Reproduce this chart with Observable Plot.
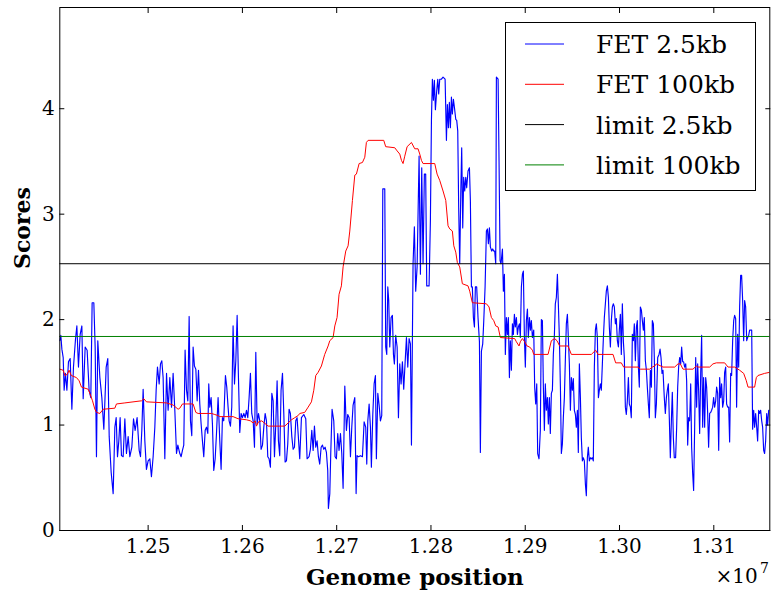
<!DOCTYPE html>
<html><head><meta charset="utf-8">
<script src="https://cdn.jsdelivr.net/npm/d3@7"></script>
<script src="https://cdn.jsdelivr.net/npm/@observablehq/plot@0.6"></script>
<style>
body{margin:0;background:#fff;}
#wrap{position:relative;width:771px;height:592px;font-family:"DejaVu Serif",serif;}
#legend{position:absolute;left:505px;top:22px;width:251px;height:169px;border:1px solid #000;background:#fff;box-sizing:border-box;}
</style></head><body><div id="wrap"><div id="legend"></div></div>
<script>
// FET 2.5kb window scores: genome position (kb) and score
const fet25PosKb = [
12406.3,12407.4,12408.5,12409.9,12410.9,12412.3,12413.8,12415.5,12417.3,12419.1,12420.8,12423.0,12424.4,12426.1,12427.9,12429.7,12431.1,12433.2,12435.3,12437.4,12439.2,12440.6,12442.4,12443.8,12445.2,12446.6,12448.8,12450.9,12453.0,12455.5,12457.2,12458.7,12460.8,12462.9,12464.7,12466.1,12467.5,12468.9,12470.3,12471.7,12473.5,12475.3,12477.0,12478.8,12480.6,12482.7,12484.5,12486.2,12488.3,12490.5,12491.9,12493.3,12494.7,12496.5,12498.2,12500.0,12501.8,12503.5,12505.3,12507.1,12508.5,12509.9,12511.7,12513.1,12514.5,12515.9,12517.7,12519.5,12521.2,12523.0,12524.8,12526.5,12528.3,12530.1,12531.5,
12533.6,12535.0,12536.4,12537.8,12539.2,12540.7,12542.1,12543.5,12544.9,12546.3,12547.7,12549.1,12550.6,12552.0,12553.4,12554.8,12556.2,12557.6,12559.0,12560.5,12561.9,12563.3,12564.3,12565.4,12566.8,12568.2,12569.6,12571.1,12572.5,12574.2,12576.0,12577.4,12578.8,12580.2,12582.0,12583.4,12584.8,12585.9,12587.3,12588.7,12590.1,12591.6,12593.0,12594.4,12595.8,12597.2,12598.6,12600.0,12601.5,12602.9,12604.3,12605.7,12607.1,12608.5,12609.9,12611.4,12612.8,12614.2,12615.6,12617.0,12618.4,12619.8,12621.3,12622.7,12624.1,12625.5,12626.9,12628.3,12629.7,12631.2,12632.6,12634.0,12635.4,12636.8,12638.2,12639.6,12641.0,12642.5,12643.9,12645.3,12646.7,12648.1,12649.5,12650.9,12652.4,12653.8,12655.2,12656.6,12658.0,
12659.1,12660.8,12662.6,12665.1,12667.2,12668.6,12670.7,12672.1,12673.6,12675.0,12676.4,12677.8,12679.2,12680.6,12682.0,12683.5,12684.9,12686.3,12687.7,12689.1,12690.5,12691.2,12692.7,12693.7,12695.1,12696.9,12698.3,12699.7,12701.1,12702.5,12704.0,12705.4,12706.8,12708.6,12710.3,12711.7,12713.2,12714.6,12716.0,12717.4,12719.2,12720.6,12721.6,12723.1,12725.2,12727.3,12729.1,12730.8,12731.9,12733.0,12734.4,12735.8,12736.8,12738.3,12739.7,12741.1,12742.1,12743.6,12745.0,12746.4,12747.8,12748.9,12751.0,12752.0,12753.1,12754.2,12755.2,12756.3,12757.7,12759.1,12760.2,12761.2,12762.6,12764.1,12765.5,12766.9,12768.3,12769.7,12771.1,12772.5,12774.0,12775.4,12776.8,12778.2,12779.3,12781.0,12782.4,12783.8,12785.3,
12787.4,12788.8,12790.2,12791.6,12793.0,12794.4,12795.5,12798.0,12799.4,12800.5,12801.5,12802.6,12803.6,12804.7,12806.1,12807.2,12808.2,12809.3,12811.1,12812.8,12815.0,12816.4,12817.4,12818.5,12819.5,12820.6,12821.7,12822.7,12823.8,12824.9,12826.3,12827.3,12828.4,12829.4,12830.5,12831.6,12832.6,12833.7,12834.7,12835.8,12836.9,12837.9,12839.3,12840.8,12841.8,12842.9,12843.9,12845.0,12846.1,12847.1,12848.5,12849.9,12851.4,12852.4,12853.5,12854.9,12856.0,12857.4,12858.8,12859.9,12860.9,12862.0,12863.0,12864.4,12865.5,12866.6,12867.6,12868.7,12869.4,12871.2,12872.2,12873.3,12874.3,12875.8,12876.8,12877.9,12878.9,12880.0,12881.1,12882.1,12883.2,12884.2,12885.3,12886.4,12887.4,12888.5,12889.5,12890.6,12891.7,12892.7,12893.8,12894.8,12895.9,12897.0,12898.0,12899.1,12900.1,12901.2,12902.3,12903.3,12904.4,12905.5,12906.5,12907.6,12909.0,12910.0,12911.1,12912.2,12913.2,
12914.6,12916.0,12917.1,12918.2,12919.2,12920.3,12921.3,12922.4,12923.5,12924.5,12925.6,12926.6,12927.7,12928.8,12929.8,12930.9,12931.9,12933.0,12934.1,12935.1,12936.2,12937.3,12938.3,12939.4,12940.4,12941.5,12942.6,12943.6,12944.7,12945.7,12946.8,12947.9,12948.9,12950.0,12951.0,12952.1,12953.2,12954.2,12955.3,12956.3,12957.4,12958.5,12959.5,12960.6,12961.6,12962.7,12963.8,12964.8,12965.9,12966.9,12968.0,12969.1,12970.1,12971.2,12972.2,12973.3,12974.4,12975.4,12976.5,12977.6,12978.6,12979.7,12980.7,12981.8,12982.9,12983.9,12985.0,12986.0,12987.1,12988.2,12989.2,12990.3,12991.3,12992.4,12993.5,12994.5,12995.6,12996.6,12997.7,12998.8,12999.8,13000.9,13001.9,13003.0,13004.1,13005.1,13006.2,13007.2,13008.3,13009.4,13010.4,13011.5,13012.5,13013.6,13014.7,13015.7,13016.8,13017.9,13018.9,13020.0,13021.0,13022.1,13023.2,13024.2,13025.3,13026.3,13027.4,13028.5,13029.5,13030.6,13031.6,13032.7,13033.8,13034.8,13035.9,13036.9,13038.0,13039.1,
13040.5,13041.9,13043.0,13044.0,13045.1,13046.1,13047.5,13048.6,13049.7,13050.7,13051.8,13052.8,13053.9,13055.0,13056.0,13057.1,13058.1,13059.5,13060.6,13061.7,13062.7,13063.8,13064.9,13065.9,13067.0,13068.0,13069.1,13070.2,13071.2,13072.3,13073.3,13074.4,13075.5,13076.5,13077.6,13078.6,13079.7,13080.8,13081.8,13082.9,13083.9,13085.0,13086.1,13087.1,13088.2,13089.2,13090.3,13091.4,13092.4,13093.5,13094.5,13095.6,13096.7,13097.7,13098.8,13099.8,13100.9,13102.0,13103.0,13104.1,13105.2,13106.2,13107.3,13108.3,13109.4,13110.5,13111.5,13112.6,13113.6,13114.7,13115.8,13116.8,13117.9,13118.9,13120.0,13121.1,13122.1,13123.2,13124.2,13125.3,13126.4,13127.4,13128.5,13129.5,13130.6,13131.7,13132.7,13133.8,13134.9,13135.9,13137.0,13138.0,13139.1,13140.2,13141.2,13142.3,13143.3,13144.4,13145.5,13146.5,13147.6,13148.6,13149.7,13150.8,13151.8,13152.9,13153.9,13155.0,13156.1,13157.1,13158.2,13159.2
];
const fet25Score = [
1.80,1.85,1.72,1.64,1.33,1.49,1.33,1.60,1.63,1.15,1.55,1.82,1.94,1.55,1.86,1.94,1.25,1.74,1.71,1.33,1.26,2.16,2.16,1.74,0.70,1.80,1.45,1.26,0.96,1.55,1.63,0.89,0.55,0.35,0.98,1.07,0.70,0.85,1.07,0.71,0.70,1.06,0.73,0.89,0.70,0.79,1.06,0.95,1.07,0.76,0.70,0.95,1.34,0.85,0.58,0.66,0.68,0.51,0.70,0.98,1.33,1.55,1.39,1.58,1.61,1.45,0.68,1.49,1.14,1.45,1.17,1.49,1.14,0.73,0.81,
0.73,0.70,0.76,0.81,1.71,1.33,1.23,2.03,1.04,0.90,1.74,1.56,1.53,1.23,1.52,1.20,1.01,0.85,0.70,0.95,0.98,0.92,1.39,1.17,1.26,1.01,0.57,0.68,0.92,1.26,0.85,0.58,1.07,1.04,1.47,1.36,1.17,1.04,0.99,1.17,1.94,1.39,1.61,2.04,1.45,0.93,1.11,1.07,1.11,1.07,1.14,1.07,1.26,1.49,1.11,1.04,0.79,1.69,1.01,1.11,1.04,0.77,0.81,0.98,1.11,1.04,0.70,0.68,0.60,1.30,1.23,0.70,1.01,1.42,0.85,0.71,1.33,1.49,1.11,0.65,0.66,0.82,1.15,1.11,0.89,0.77,0.79,1.04,1.07,
0.92,0.68,1.07,1.10,1.06,0.68,0.70,0.77,0.95,0.76,0.99,0.79,0.85,0.70,0.63,0.79,0.81,0.77,0.79,0.74,0.57,0.21,0.35,0.73,1.15,1.04,0.70,0.68,0.92,0.76,0.92,0.73,0.40,1.37,0.95,1.10,1.07,0.70,0.98,1.19,1.26,0.35,0.71,0.70,0.71,0.70,1.03,0.98,0.63,1.04,1.20,0.98,0.60,1.10,1.39,1.47,0.68,1.30,1.19,1.04,1.09,3.24,3.24,1.74,1.67,2.31,2.18,1.74,2.02,2.04,1.67,1.58,1.85,1.74,1.07,1.58,1.39,1.60,1.34,1.58,1.83,1.55,1.82,1.77,0.81,2.53,2.88,2.27,2.50,
3.55,2.43,3.44,2.53,3.38,3.38,2.32,2.32,2.94,3.89,4.28,4.08,4.27,3.99,4.17,4.28,4.14,4.28,4.28,4.30,4.28,3.70,4.04,3.82,4.06,3.82,4.11,3.95,4.09,4.01,3.90,3.89,3.79,3.06,2.53,3.19,3.63,2.87,3.35,3.22,3.35,3.25,3.41,3.44,3.13,2.31,2.31,2.02,1.93,2.31,2.31,2.02,1.79,0.74,1.70,1.77,1.99,2.31,2.84,2.86,2.72,2.87,2.69,2.65,2.67,2.65,2.65,2.53,4.30,4.28,3.51,2.56,2.53,2.67,2.27,2.43,1.67,2.02,1.86,2.02,1.45,1.80,1.52,1.96,1.86,2.05,1.93,2.02,1.86,1.93,1.96,1.83,2.31,2.43,2.46,1.83,1.55,1.99,2.10,1.83,2.02,1.90,1.99,1.83,1.90,1.36,1.20,1.39,0.73,
0.68,0.95,2.00,1.99,1.37,0.95,1.39,1.14,1.26,1.01,1.26,0.92,1.30,1.33,1.67,1.85,2.15,2.21,2.43,2.15,1.83,1.36,0.73,0.82,1.07,1.26,1.64,1.96,2.05,1.83,1.58,1.14,1.45,1.33,1.44,1.14,1.10,0.98,1.14,0.74,1.58,1.26,0.88,0.66,0.69,0.66,0.44,0.33,0.69,0.79,0.66,0.69,0.68,0.69,0.66,1.55,1.90,1.96,1.83,1.26,1.33,1.39,1.33,1.58,1.83,2.02,2.15,2.27,2.32,2.21,1.93,1.74,1.99,2.12,2.15,2.12,1.96,2.01,1.80,1.74,1.90,2.05,1.67,2.15,1.79,1.64,1.17,1.10,1.23,1.45,1.20,1.17,1.07,1.86,1.80,1.96,1.61,1.93,1.99,1.55,1.36,2.12,2.09,1.99,1.90,2.02,1.61,1.52,1.36,1.20,1.07,1.52,1.36,1.99,1.96,1.64,1.07,1.20,
1.64,1.67,1.72,1.64,1.49,1.52,1.26,1.11,1.26,1.33,1.39,1.07,0.69,1.04,1.31,0.88,0.69,0.69,0.98,1.36,1.55,1.64,1.58,1.74,1.60,1.60,1.55,1.58,1.42,0.81,1.07,1.04,1.39,0.79,0.54,0.38,0.98,1.64,1.17,1.58,1.33,0.92,1.49,1.85,0.98,1.45,0.98,1.45,1.36,1.11,0.79,1.11,1.12,1.14,1.17,1.26,1.17,1.23,1.36,1.30,0.76,1.45,1.26,1.39,1.17,1.23,1.50,1.55,1.20,1.17,1.17,0.84,1.49,1.47,1.80,1.99,2.04,2.01,1.17,1.86,1.55,2.12,2.42,2.42,2.18,1.80,2.18,2.12,1.80,1.83,1.85,1.90,1.90,1.90,0.96,1.14,0.98,1.11,0.98,0.85,1.14,1.11,1.14,1.04,0.98,0.76,0.73,0.85,1.11,1.00,1.14,1.14
];
// FET 100kb window scores
const fet100PosKb = [
12406.3,12409.9,12411.6,12414.1,12416.2,12418.4,12424.0,12426.8,12429.3,12436.4,12438.2,12441.0,12443.5,12445.2,12448.8,12452.3,12464.7,12466.4,12475.3,12493.0,12495.4,12498.2,12519.5,12526.5,12531.8,
12533.6,12536.4,12547.7,12550.6,12553.0,12567.2,12570.7,12574.2,12576.0,12590.1,12595.4,12604.3,12608.5,12611.4,12613.5,12614.9,12617.0,12620.5,12627.3,12644.9,12648.5,12652.0,12655.5,12659.1,
12660.8,12666.1,12669.7,12673.2,12675.7,12677.8,12680.3,12683.8,12687.3,12690.9,12692.7,12696.2,12698.0,12700.4,12702.5,12705.0,12706.8,12709.6,12712.1,12713.9,12716.7,12719.2,12720.9,12723.8,12727.3,12729.8,12731.5,12733.3,12749.9,12752.0,12761.6,12764.1,12766.9,12768.7,12770.4,12772.2,12774.7,12779.3,12782.8,
12786.3,12788.1,12789.9,12791.6,12804.0,12806.5,12809.3,12812.8,12815.7,12818.1,12819.9,12822.7,12824.2,12826.3,12828.0,12830.5,12833.3,12839.3,12841.1,12843.9,12858.8,12861.6,12864.1,12866.6,12868.7,12871.2,12873.6,12888.8,12890.6,12893.4,12894.8,12897.0,12899.4,12901.9,12904.7,12907.6,12909.0,
12924.2,12927.7,12931.2,12933.7,12936.5,12945.4,12948.9,12970.1,12974.7,12977.2,12993.1,12995.9,13001.9,13004.4,13019.6,13022.1,13032.0,13034.8,13037.3,
13039.1,13046.1,13058.5,13062.0,13064.5,13067.3,13077.9,13081.5,13083.2,13095.6,13099.1,13102.7,13111.5,13115.1,13122.1,13127.4,13131.7,13134.5,13136.3,13143.3,13145.1,13146.9,13153.9,13159.2
];
const fet100Score = [
1.53,1.52,1.47,1.48,1.52,1.47,1.45,1.42,1.36,1.34,1.30,1.23,1.15,1.12,1.11,1.15,1.16,1.20,1.21,1.23,1.25,1.22,1.21,1.19,1.15,
1.16,1.20,1.20,1.12,1.11,1.11,1.10,1.09,1.08,1.08,1.06,1.05,1.04,1.02,1.04,0.99,1.03,1.04,0.99,0.99,1.02,1.05,1.07,1.09,
1.11,1.12,1.17,1.22,1.33,1.47,1.50,1.56,1.67,1.75,1.80,1.83,1.94,2.02,2.24,2.32,2.50,2.65,2.70,2.84,3.13,3.37,3.38,3.48,3.49,3.54,3.68,3.70,3.70,3.64,3.63,3.60,3.57,3.51,3.48,3.55,3.64,3.68,3.62,
3.62,3.57,3.51,3.48,3.48,3.38,3.32,3.22,3.13,2.89,2.86,2.84,2.70,2.64,2.54,2.50,2.34,2.32,2.27,2.16,2.15,2.12,2.02,1.99,1.94,1.93,1.83,1.82,1.79,1.75,1.79,1.82,1.79,1.75,1.74,1.71,1.67,
1.67,1.80,1.82,1.80,1.75,1.75,1.67,1.67,1.71,1.67,1.67,1.59,1.59,1.55,1.55,1.53,1.53,1.55,1.56,
1.58,1.55,1.55,1.58,1.58,1.53,1.53,1.56,1.55,1.55,1.58,1.59,1.59,1.55,1.55,1.52,1.49,1.42,1.36,1.36,1.45,1.47,1.49,1.50
];
// significance limits
const limitNames = ["limit 2.5kb", "limit 100kb"];
const limitValues = [2.53, 1.84];
// legend
const legendLabels = ["FET 2.5kb", "FET 100kb", "limit 2.5kb", "limit 100kb"];
const legendColors = ["#0000ff", "#ff0000", "#000000", "#008000"];
// axes
const xTicks = [12500000, 12600000, 12700000, 12800000, 12900000, 13000000, 13100000];
const yTicks = [0, 1, 2, 3, 4];
const xDomain = [12406300, 13159400];
const yDomain = [0, 4.96];

const fet25 = fet25PosKb.map((p, i) => ({pos: p * 1000, score: fet25Score[i]}));
const fet100 = fet100PosKb.map((p, i) => ({pos: p * 1000, score: fet100Score[i]}));

const plot = Plot.plot({
  width: 771, height: 592,
  marginLeft: 59.3, marginRight: 1.7, marginTop: 7, marginBottom: 62,
  style: {fontFamily: '"DejaVu Serif", serif', fontSize: "20px", color: "#000", background: "#fff"},
  x: {domain: xDomain},
  y: {domain: yDomain},
  marks: [
    Plot.line(fet25, {x: "pos", y: "score", stroke: legendColors[0], strokeWidth: 1.15, clip: true}),
    Plot.line(fet100, {x: "pos", y: "score", stroke: legendColors[1], strokeWidth: 1, clip: true}),
    Plot.ruleY([limitValues[0]], {stroke: legendColors[2], strokeWidth: 1}),
    Plot.ruleY([limitValues[1]], {stroke: legendColors[3], strokeWidth: 1}),
    Plot.frame({stroke: "#000", strokeWidth: 1}),
    Plot.axisX({anchor: "bottom", ticks: xTicks, tickSize: -5, tickFormat: () => "", label: null}),
    Plot.axisX({anchor: "top", ticks: xTicks, tickSize: -5, tickFormat: () => "", label: null}),
    Plot.axisY({anchor: "left", ticks: yTicks, tickSize: -5, tickFormat: () => "", label: null}),
    Plot.axisY({anchor: "right", ticks: yTicks, tickSize: -5, tickFormat: () => "", label: null}),
    Plot.axisX({anchor: "bottom", ticks: xTicks, tickSize: 0, tickPadding: 8, tickFormat: d => (d / 1e7).toFixed(2), label: null, fontSize: 20}),
    Plot.axisY({anchor: "left", ticks: yTicks, tickSize: 0, tickPadding: 5, tickFormat: d => String(d), label: null, fontSize: 20}),
    Plot.text(["Genome position"], {frameAnchor: "bottom", text: d => d, dy: 54, lineAnchor: "bottom", fontSize: 23, fontWeight: "bold"}),
    Plot.text(["Scores"], {frameAnchor: "left", text: d => d, dx: -37, rotate: -90, fontSize: 22, fontWeight: "bold"}),
    Plot.text(["×10"], {frameAnchor: "bottom-right", text: d => d, textAnchor: "end", lineAnchor: "bottom", dx: -12, dy: 52, fontSize: 20}),
    Plot.text(["7"], {frameAnchor: "bottom-right", text: d => d, textAnchor: "end", lineAnchor: "bottom", dx: -1, dy: 42, fontSize: 14})
  ]
});
const wrap = document.getElementById("wrap");
wrap.insertBefore(plot, wrap.firstChild);

// legend box
const lg = d3.select("#legend").append("svg").attr("width", 249).attr("height", 167)
  .style("display", "block");
legendLabels.forEach((lab, i) => {
  const cy = 21 + i * 40.3;
  lg.append("line").attr("x1", 19).attr("x2", 58).attr("y1", cy).attr("y2", cy)
    .attr("stroke", legendColors[i]).attr("stroke-width", 1);
  lg.append("text").attr("x", 90).attr("y", cy + 9).text(lab)
    .attr("font-family", '"DejaVu Serif", serif').attr("font-size", 25).attr("fill", "#000");
});
</script></body></html>
